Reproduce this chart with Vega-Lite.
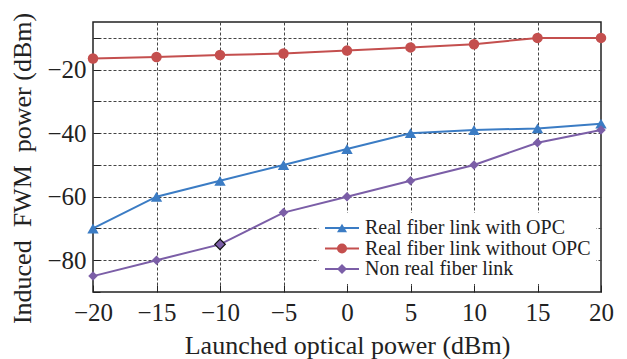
{
  "$schema": "https://vega.github.io/schema/vega-lite/v6.json",
  "width": 508,
  "height": 270,
  "autosize": {"type": "none"},
  "padding": {"left": 93, "top": 22, "right": 26, "bottom": 67},
  "background": "white",
  "config": {
    "font": "Liberation Serif",
    "view": {"stroke": "#222", "strokeWidth": 1.5},
    "axis": {"labelFont": "Liberation Serif", "titleFont": "Liberation Serif", "labelColor": "#222", "titleColor": "#222", "titleFontWeight": "normal"},
    "legend": {"labelFont": "Liberation Serif", "labelColor": "#222"}
  },
  "data": {
    "values": [
      {"power": -20, "fwm": -70, "series": "Real fiber link with OPC"},
      {"power": -15, "fwm": -60, "series": "Real fiber link with OPC"},
      {"power": -10, "fwm": -55, "series": "Real fiber link with OPC"},
      {"power": -5, "fwm": -50, "series": "Real fiber link with OPC"},
      {"power": 0, "fwm": -45, "series": "Real fiber link with OPC"},
      {"power": 5, "fwm": -40, "series": "Real fiber link with OPC"},
      {"power": 10, "fwm": -39, "series": "Real fiber link with OPC"},
      {"power": 15, "fwm": -38.5, "series": "Real fiber link with OPC"},
      {"power": 20, "fwm": -37, "series": "Real fiber link with OPC"},
      {"power": -20, "fwm": -16.5, "series": "Real fiber link without OPC"},
      {"power": -15, "fwm": -16, "series": "Real fiber link without OPC"},
      {"power": -10, "fwm": -15.4, "series": "Real fiber link without OPC"},
      {"power": -5, "fwm": -14.9, "series": "Real fiber link without OPC"},
      {"power": 0, "fwm": -14, "series": "Real fiber link without OPC"},
      {"power": 5, "fwm": -13, "series": "Real fiber link without OPC"},
      {"power": 10, "fwm": -12, "series": "Real fiber link without OPC"},
      {"power": 15, "fwm": -10, "series": "Real fiber link without OPC"},
      {"power": 20, "fwm": -10, "series": "Real fiber link without OPC"},
      {"power": -20, "fwm": -85, "series": "Non real fiber link"},
      {"power": -15, "fwm": -80, "series": "Non real fiber link"},
      {"power": -10, "fwm": -75, "series": "Non real fiber link"},
      {"power": -5, "fwm": -65, "series": "Non real fiber link"},
      {"power": 0, "fwm": -60, "series": "Non real fiber link"},
      {"power": 5, "fwm": -55, "series": "Non real fiber link"},
      {"power": 10, "fwm": -50, "series": "Non real fiber link"},
      {"power": 15, "fwm": -43, "series": "Non real fiber link"},
      {"power": 20, "fwm": -39, "series": "Non real fiber link"}
    ]
  },
  "encoding": {
    "x": {
      "field": "power", "type": "quantitative",
      "scale": {"domain": [-20, 20], "nice": false, "zero": false},
      "axis": {
        "values": [-20, -15, -10, -5, 0, 5, 10, 15, 20],
        "format": "d",
        "grid": true, "gridDash": [3, 2], "gridColor": "#444", "gridWidth": 1,
        "gridOpacity": {"condition": {"test": "abs(datum.value) == 20", "value": 0}, "value": 1},
        "domain": false,
        "tickSize": -7, "tickColor": "#222", "tickWidth": 1,
        "labelFontSize": 25, "labelPadding": 15, "labelFlush": false, "labelOverlap": false,
        "title": "Launched optical power (dBm)",
        "titleFontSize": 26, "titleBaseline": "alphabetic", "titleY": 61
      }
    },
    "y": {
      "field": "fwm", "type": "quantitative",
      "scale": {"domain": [-90, -5], "nice": false, "zero": false},
      "axis": {
        "values": [-90, -80, -70, -60, -50, -40, -30, -20, -10],
        "labelExpr": "datum.value % 20 == 0 ? datum.label : ''",
        "grid": true, "gridDash": [3, 2], "gridColor": "#444", "gridWidth": 1,
        "gridOpacity": {"condition": {"test": "datum.value == -90", "value": 0}, "value": 1},
        "domain": false,
        "tickSize": -7, "tickColor": "#222", "tickWidth": 1,
        "labelFontSize": 25, "labelPadding": 14, "labelOverlap": false,
        "title": "Induced\u00a0\u00a0FWM\u00a0\u00a0power (dBm)",
        "titleFontSize": 26, "titleBaseline": "alphabetic", "titleAngle": -90,
        "titleX": -63, "titleY": 146, "titleAlign": "center"
      }
    }
  },
  "layer": [
    {
      "mark": {"type": "line", "strokeWidth": 2},
      "encoding": {
        "color": {
          "field": "series", "type": "nominal",
          "scale": {
            "domain": ["Real fiber link with OPC", "Real fiber link without OPC", "Non real fiber link"],
            "range": ["#3b7cc4", "#c44f4e", "#7b5ea7"]
          },
          "legend": {
            "title": null,
            "orient": "none", "legendX": 226, "legendY": 191,
            "padding": 5, "fillColor": "white",
            "clipHeight": 20, "rowPadding": 0.5,
            "labelFontSize": 20, "labelOffset": 5, "labelLimit": 400,
            "symbolType": "stroke", "symbolSize": 1156, "symbolStrokeWidth": 2
          }
        }
      }
    },
    {
      "mark": {"type": "point", "filled": true, "opacity": 1},
      "encoding": {
        "color": {
          "field": "series", "type": "nominal",
          "scale": {
            "domain": ["Real fiber link with OPC", "Real fiber link without OPC", "Non real fiber link"],
            "range": ["#3b7cc4", "#c44f4e", "#7b5ea7"]
          },
          "legend": {
            "title": null,
            "orient": "none", "legendX": 226, "legendY": 191,
            "padding": 5,
            "clipHeight": 20, "rowPadding": 0.5,
            "labelFontSize": 20, "labelOffset": 21, "labelExpr": "''",
            "symbolSize": 100, "symbolOffset": 8, "symbolOpacity": 1
          }
        },
        "shape": {
          "field": "series", "type": "nominal",
          "scale": {
            "domain": ["Real fiber link with OPC", "Real fiber link without OPC", "Non real fiber link"],
            "range": ["triangle-up", "circle", "diamond"]
          },
          "legend": {
            "title": null,
            "orient": "none", "legendX": 226, "legendY": 191,
            "padding": 5,
            "clipHeight": 20, "rowPadding": 0.5,
            "labelFontSize": 20, "labelOffset": 21, "labelExpr": "''",
            "symbolSize": 100, "symbolOffset": 8, "symbolOpacity": 1
          }
        },
        "size": {
          "field": "series", "type": "nominal",
          "scale": {
            "domain": ["Real fiber link with OPC", "Real fiber link without OPC", "Non real fiber link"],
            "range": [130, 90, 120]
          },
          "legend": null
        }
      }
    },
    {
      "transform": [{"filter": "datum.series === 'Non real fiber link' && datum.power === -10"}],
      "mark": {"type": "point", "shape": "diamond", "filled": true, "fill": "#7b5ea7", "stroke": "#111", "strokeWidth": 1.3, "size": 110, "opacity": 1},
      "encoding": {}
    }
  ],
  "resolve": {"legend": {"color": "independent", "shape": "independent"}}
}
